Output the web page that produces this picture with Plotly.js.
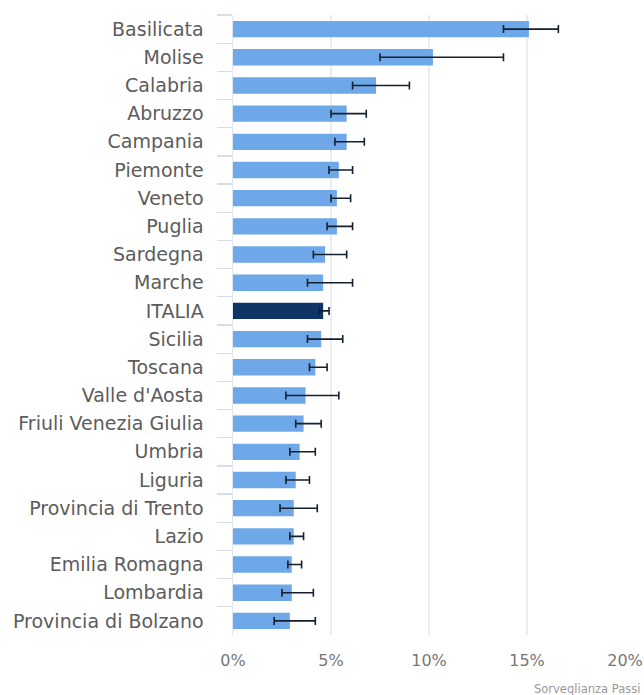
<!DOCTYPE html>
<html>
<head>
<meta charset="utf-8">
<script src="https://cdn.plot.ly/plotly-3.0.1.min.js"></script>
<style>html,body{margin:0;padding:0;background:#fff;}#chart{width:644px;height:695px;}</style>
</head>
<body>
<div id="chart"></div>
<script>
const regions = ["Basilicata","Molise","Calabria","Abruzzo","Campania","Piemonte","Veneto","Puglia","Sardegna","Marche","ITALIA","Sicilia","Toscana","Valle d'Aosta","Friuli Venezia Giulia","Umbria","Liguria","Provincia di Trento","Lazio","Emilia Romagna","Lombardia","Provincia di Bolzano"];
const values = [15.1,10.2,7.3,5.8,5.8,5.4,5.3,5.3,4.7,4.6,4.6,4.5,4.2,3.7,3.6,3.4,3.2,3.1,3.1,3.0,3.0,2.9];
const lower  = [13.8,7.5,6.1,5.0,5.2,4.9,5.0,4.8,4.1,3.8,4.4,3.8,3.9,2.7,3.2,2.9,2.7,2.4,2.9,2.8,2.5,2.1];
const upper  = [16.6,13.8,9.0,6.8,6.7,6.1,6.0,6.1,5.8,6.1,4.9,5.6,4.8,5.4,4.5,4.2,3.9,4.3,3.6,3.5,4.1,4.2];
const xTicks = [0,5,10,15,20];
const xTickLabels = ["0%","5%","10%","15%","20%"];
const sourceText = "Sorveglianza Passi";

const colors = regions.map(r => r === "ITALIA" ? "#0e3566" : "#6ea8e8");
const trace = {
  type: "bar",
  orientation: "h",
  y: regions,
  x: values,
  marker: {color: colors},
  error_x: {
    type: "data",
    symmetric: false,
    array: upper.map((u,i) => u - values[i]),
    arrayminus: values.map((v,i) => v - lower[i]),
    color: "#15202e",
    thickness: 1.6,
    width: 4
  },
  hoverinfo: "none"
};
const layout = {
  width: 644, height: 695,
  margin: {l: 233, r: 19, t: 15, b: 60},
  paper_bgcolor: "#fff", plot_bgcolor: "#fff",
  bargap: 0.42,
  showlegend: false,
  font: {family: "DejaVu Sans, sans-serif", color: "#5a5a5a"},
  xaxis: {
    range: [0, 20],
    tickvals: xTicks,
    ticktext: xTickLabels,
    showgrid: true, gridcolor: "#ececec", gridwidth: 1.5,
    zeroline: false, showline: false,
    ticks: "outside", ticklen: 11, tickcolor: "rgba(0,0,0,0)",
    tickfont: {size: 16, color: "#777", family: "DejaVu Sans, sans-serif"},
    fixedrange: true
  },
  yaxis: {
    autorange: "reversed",
    type: "category",
    showline: true, linecolor: "#e0e7f0", linewidth: 1.5,
    ticks: "outside", tickson: "boundaries", ticklen: 15, tickcolor: "#d8dde6", tickwidth: 1.2,
    ticklabelstandoff: 24,
    showgrid: false,
    tickfont: {size: 19, color: "#5c5c5c", family: "DejaVu Sans, sans-serif"},
    fixedrange: true
  },
  annotations: [{
    text: sourceText, xref: "paper", yref: "paper",
    x: 1.0, y: 0, xanchor: "right", yanchor: "top", yshift: -45, xshift: 17,
    showarrow: false, font: {size: 11.5, color: "#9a9a9a", family: "DejaVu Sans, sans-serif"}
  }]
};
Plotly.newPlot("chart", [trace], layout, {displayModeBar: false, staticPlot: true});
</script>
</body>
</html>
